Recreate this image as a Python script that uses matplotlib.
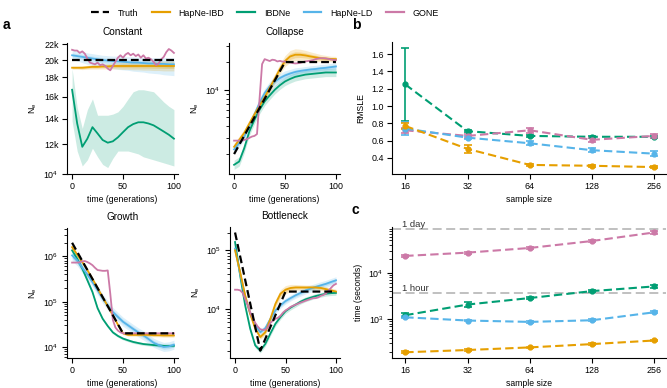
import numpy as np
import matplotlib
matplotlib.use('Agg')
import matplotlib.pyplot as plt
from matplotlib.lines import Line2D
from matplotlib.ticker import NullFormatter, NullLocator, FixedLocator
import matplotlib.transforms as mtransforms

plt.rcParams['font.family'] = ['Liberation Sans', 'DejaVu Sans']
plt.rcParams['mathtext.fontset'] = 'custom'
plt.rcParams['mathtext.rm'] = 'Liberation Sans'
plt.rcParams['mathtext.it'] = 'Liberation Sans'
plt.rcParams['axes.linewidth'] = 0.8
plt.rcParams['xtick.major.width'] = 0.8
plt.rcParams['ytick.major.width'] = 0.8
plt.rcParams['ytick.minor.width'] = 0.6
plt.rcParams['xtick.major.size'] = 3.5
plt.rcParams['ytick.major.size'] = 3.5
plt.rcParams['ytick.minor.size'] = 2
plt.rcParams['xtick.major.pad'] = 2.5
plt.rcParams['ytick.major.pad'] = 2.5
plt.rcParams['xtick.labelsize'] = 6.4
plt.rcParams['ytick.labelsize'] = 6.4
plt.rcParams['axes.labelsize'] = 6.2

C_IBD = '#E69F00'
C_IBDNE = '#009E73'
C_LD = '#56B4E9'
C_GONE = '#CC79A7'

# ---------------- panel a data ----------------
t = np.arange(0, 101, 5)
t_gone = np.arange(0, 100.1, 2.5)

# Constant
const_truth_t = [0, 100]
const_truth = [20000, 20000]
const_ibd = [19.1, 19.1, 19.1, 19.15, 19.2, 19.2, 19.25, 19.25, 19.3, 19.3, 19.3,
             19.3, 19.3, 19.3, 19.3, 19.3, 19.3, 19.3, 19.3, 19.3, 19.3]
const_ibd_w = [0.004, 0.004, 0.005, 0.005, 0.006, 0.006, 0.007, 0.007, 0.008, 0.008, 0.009,
               0.009, 0.010, 0.010, 0.011, 0.011, 0.012, 0.012, 0.013, 0.013, 0.013]
const_ibdne = [16.7, 13.6, 11.8, 12.4, 13.3, 12.8, 12.3, 12.1, 12.2, 12.5, 12.9,
               13.3, 13.55, 13.7, 13.7, 13.6, 13.45, 13.2, 12.95, 12.7, 12.4]
const_ibdne_lo = [13.8, 11.5, 10.5, 10.9, 11.7, 11.1, 10.6, 10.4, 11.0, 11.5, 11.5,
                  11.5, 11.4, 11.3, 11.1, 11.0, 10.9, 10.8, 10.7, 10.6, 10.5]
const_ibdne_hi = [19.0, 15.0, 13.2, 14.8, 15.8, 14.3, 14.3, 14.3, 14.4, 14.6, 15.1,
                  15.8, 16.5, 16.7, 16.7, 16.6, 16.5, 16.0, 15.5, 15.1, 14.8]
const_ld = [20.6, 20.5, 20.4, 20.3, 20.2, 20.1, 20.0, 19.95, 19.9, 19.85, 19.8,
            19.75, 19.7, 19.7, 19.65, 19.6, 19.6, 19.55, 19.55, 19.5, 19.5]
const_ld_lo = [20.1, 19.9, 19.7, 19.5, 19.4, 19.3, 19.2, 19.1, 19.0, 18.9, 18.85,
               18.8, 18.7, 18.65, 18.6, 18.5, 18.45, 18.4, 18.3, 18.25, 18.2]
const_ld_hi = [21.2, 21.1, 21.0, 20.9, 20.8, 20.7, 20.6, 20.55, 20.5, 20.5, 20.45,
               20.4, 20.4, 20.35, 20.3, 20.3, 20.3, 20.3, 20.3, 20.3, 20.3]
const_gone = [21.3, 21.2, 21.2, 20.9, 21.1, 20.8, 20.2, 19.7, 19.6, 19.5, 19.7, 19.4, 19.5, 19.3,
              19.0, 18.8, 19.3, 19.8, 20.3, 20.6, 20.3, 20.7, 20.9, 20.6, 20.8, 20.5, 20.7, 20.3,
              20.6, 20.2, 20.3, 20.1, 19.8, 19.4, 19.6, 20.1, 20.4, 21.0, 21.4, 21.2, 20.9]

# Collapse
coll_truth_t = [0, 50, 100]
coll_truth = [2000, 20000, 20000]
coll_ibd = [2400, 2850, 3400, 4300, 5400, 6700, 8300, 10500, 13200, 16800, 20500,
            23000, 24000, 24000, 23600, 23000, 22500, 22000, 21800, 21600, 21500]
coll_ibd_w = [0.04, 0.04, 0.04, 0.04, 0.045, 0.045, 0.05, 0.05, 0.05, 0.055, 0.06,
              0.065, 0.065, 0.06, 0.055, 0.05, 0.045, 0.04, 0.035, 0.03, 0.03]
coll_ibdne = [1530, 1660, 2320, 3530, 4720, 6070, 7470, 8690, 10000, 11200, 12300,
              13100, 13800, 14200, 14600, 14800, 15000, 15200, 15400, 15400, 15400]
coll_ibdne_w = [0.05, 0.05, 0.05, 0.045, 0.045, 0.045, 0.045, 0.045, 0.045, 0.045, 0.045,
                0.045, 0.045, 0.045, 0.045, 0.045, 0.045, 0.045, 0.045, 0.045, 0.045]
coll_ld = [2250, 2630, 3110, 4100, 5400, 7200, 9200, 10900, 12300, 13400, 14300,
           15000, 15600, 16000, 16300, 16600, 16800, 17100, 17300, 17600, 17900]
coll_ld_w = [0.04, 0.04, 0.04, 0.04, 0.045, 0.05, 0.05, 0.05, 0.05, 0.05, 0.05,
             0.045, 0.045, 0.04, 0.04, 0.04, 0.04, 0.04, 0.04, 0.04, 0.04]
coll_gone = [2800, 2800, 2800, 2800, 2850, 2900, 3000, 3100, 3150, 3300, 8000, 19000, 21500, 21000,
             20500, 21200, 21000, 20300, 20600, 20200, 20300, 19900, 19800, 19500, 19300, 19400,
             19600, 20000, 20300, 20500, 20700, 21000, 21500, 21800, 22000, 22000, 21900, 21600,
             21300, 21100, 21000]

# Growth
grow_truth_t = [0, 50, 100]
grow_truth = [2e6, 2e4, 2e4]
grow_ibd = [1.6e6, 1.1e6, 7.5e5, 5.0e5, 3.2e5, 2.0e5, 1.25e5, 8.0e4, 5.0e4, 3.1e4, 2.0e4,
            1.85e4, 1.85e4, 1.85e4, 1.85e4, 1.85e4, 1.82e4, 1.82e4, 1.8e4, 1.8e4, 1.8e4]
grow_ibd_w = [0.04, 0.035, 0.03, 0.03, 0.03, 0.03, 0.03, 0.03, 0.03, 0.03, 0.03,
              0.03, 0.03, 0.03, 0.03, 0.035, 0.035, 0.035, 0.04, 0.04, 0.04]
grow_ibdne = [1.36e6, 8.9e5, 5.4e5, 2.97e5, 1.63e5, 7.2e4, 4.2e4, 2.9e4, 2.1e4, 1.75e4, 1.53e4,
              1.4e4, 1.29e4, 1.22e4, 1.16e4, 1.13e4, 1.1e4, 1.08e4, 1.06e4, 1.06e4, 1.06e4]
grow_ibdne_w = [0.14, 0.1, 0.07, 0.05, 0.04, 0.04, 0.035, 0.03, 0.03, 0.03, 0.03,
                0.03, 0.03, 0.03, 0.03, 0.03, 0.03, 0.03, 0.03, 0.03, 0.03]
grow_ld = [1.05e6, 8.2e5, 5.6e5, 4.0e5, 2.7e5, 1.8e5, 1.17e5, 8.3e4, 5.9e4, 4.6e4, 3.6e4,
           3.0e4, 2.5e4, 2.1e4, 1.8e4, 1.5e4, 1.24e4, 1.1e4, 1.0e4, 1.03e4, 1.12e4]
grow_ld_w = [0.12, 0.12, 0.11, 0.1, 0.1, 0.1, 0.1, 0.1, 0.1, 0.1, 0.1,
             0.1, 0.1, 0.1, 0.1, 0.1, 0.1, 0.1, 0.1, 0.1, 0.1]
grow_gone = [7.3e5, 7.3e5, 7.3e5, 7.4e5, 7.8e5, 7.9e5, 7.5e5, 7.0e5, 6.4e5, 5.6e5, 5.0e5, 4.9e5,
             4.8e5, 4.8e5, 4.9e5, 1.5e5, 4.0e4, 2.7e4, 2.3e4, 2.1e4, 2.0e4, 2.0e4, 2.0e4, 2.0e4,
             2.0e4, 2.0e4, 2.0e4, 2.0e4, 2.0e4, 2.0e4, 2.0e4, 2.0e4, 2.0e4, 2.0e4, 2.0e4, 2.0e4,
             2.0e4, 2.0e4, 2.0e4, 2.0e4, 2.0e4]

# Bottleneck
bott_truth_t = [0, 25, 50, 100]
bott_truth = [2e5, 2e3, 2e4, 2e4]
bott_ibd = [1.0e5, 4.3e4, 1.73e4, 8.4e3, 4.7e3, 3.4e3, 4.1e3, 6.9e3, 1.24e4, 1.84e4, 2.15e4,
            2.3e4, 2.35e4, 2.35e4, 2.35e4, 2.35e4, 2.35e4, 2.3e4, 2.2e4, 2.1e4, 2.0e4]
bott_ibd_w = [0.04, 0.04, 0.04, 0.04, 0.04, 0.04, 0.05, 0.06, 0.07, 0.07, 0.07,
              0.06, 0.05, 0.045, 0.04, 0.04, 0.04, 0.04, 0.04, 0.04, 0.04]
bott_ibdne = [1.38e5, 3.8e4, 1.17e4, 4.7e3, 2.45e3, 2.0e3, 2.6e3, 3.9e3, 5.7e3, 7.4e3, 9.3e3,
              1.07e4, 1.2e4, 1.35e4, 1.48e4, 1.58e4, 1.68e4, 1.76e4, 1.84e4, 1.88e4, 1.9e4]
bott_ibdne_w = [0.04, 0.04, 0.04, 0.04, 0.04, 0.04, 0.04, 0.04, 0.04, 0.04, 0.04,
                0.04, 0.04, 0.04, 0.04, 0.04, 0.04, 0.04, 0.04, 0.04, 0.04]
bott_ld = [1.07e5, 4.0e4, 1.6e4, 8.4e3, 5.35e3, 4.1e3, 4.8e3, 6.9e3, 9.6e3, 1.17e4, 1.38e4,
           1.55e4, 1.73e4, 1.9e4, 2.1e4, 2.25e4, 2.4e4, 2.55e4, 2.7e4, 2.9e4, 3.1e4]
bott_ld_w = [0.05, 0.05, 0.05, 0.05, 0.05, 0.05, 0.05, 0.05, 0.05, 0.05, 0.05,
             0.05, 0.05, 0.055, 0.06, 0.06, 0.06, 0.06, 0.06, 0.06, 0.06]
bott_gone = [2.15e4, 2.15e4, 2.1e4, 1.9e4, 1.5e4, 1.2e4, 9.0e3, 7.2e3, 5.9e3, 5.1e3, 4.6e3, 4.5e3,
             4.5e3, 5.0e3, 5.9e3, 6.4e3, 6.9e3, 7.2e3, 7.8e3, 8.8e3, 9.6e3, 1.02e4, 1.1e4, 1.15e4,
             1.2e4, 1.25e4, 1.3e4, 1.35e4, 1.4e4, 1.45e4, 1.5e4, 1.55e4, 1.55e4, 1.6e4, 1.7e4,
             1.75e4, 1.85e4, 2.05e4, 2.3e4, 2.55e4, 2.7e4]

# ---------------- panel b / c data ----------------
sample_size = [16, 32, 64, 128, 256]
rmsle_ibd = [0.77, 0.505, 0.32, 0.31, 0.295]
rmsle_ibd_err = [0.03, 0.05, 0.015, 0.01, 0.01]
rmsle_ibdne = [1.25, 0.71, 0.655, 0.645, 0.645]
rmsle_ibdne_err = [0.42, 0.015, 0.015, 0.012, 0.012]
rmsle_ld = [0.74, 0.635, 0.57, 0.49, 0.45]
rmsle_ld_err = [0.07, 0.02, 0.025, 0.02, 0.03]
rmsle_gone = [0.72, 0.655, 0.72, 0.61, 0.655]
rmsle_gone_err = [0.03, 0.02, 0.03, 0.02, 0.02]

time_ibd = [194, 217, 247, 291, 348]
time_ibd_err = [8, 8, 10, 12, 15]
time_ibdne = [1220, 2070, 2860, 4030, 5090]
time_ibdne_err = [120, 250, 200, 250, 300]
time_ld = [1100, 937, 875, 950, 1410]
time_ld_err = [50, 40, 40, 40, 80]
time_gone = [23100, 27200, 34300, 48400, 74000]
time_gone_err = [1500, 1500, 2000, 2500, 4000]

fig = plt.figure(figsize=(6.67, 3.88), dpi=100)


def px_axes(l, tp, r, b):
    return fig.add_axes([l / 667, 1 - b / 388, (r - l) / 667, (b - tp) / 388])


def band(ax, x, y, w, color, layered=False):
    y = np.asarray(y, float)
    w = np.asarray(w, float)
    ax.fill_between(x, y * 10 ** -w, y * 10 ** w, color=color, alpha=0.2, lw=0)
    if layered:
        ax.fill_between(x, y * 10 ** (-w / 2), y * 10 ** (w / 2), color=color, alpha=0.25, lw=0)


def style_a(ax, title):
    ax.set_yscale('log')
    ax.set_xlim(-5, 104)
    ax.set_xticks([0, 50, 100])
    ax.set_title(title, fontsize=7.2, pad=6)
    ax.set_xlabel('time (generations)', labelpad=3)
    ax.set_ylabel('N$_\\mathrm{e}$', labelpad=3)
    ax.spines['top'].set_visible(False)
    ax.spines['right'].set_visible(False)
    ax.yaxis.set_minor_formatter(NullFormatter())


def draw_lines(ax, truth_t, truth, ibd, ibdne, ld, gone, k=1.0):
    ax.plot(t, np.asarray(ibdne) * k, color=C_IBDNE, lw=1.3)
    ax.plot(t, np.asarray(ld) * k, color=C_LD, lw=1.3)
    ax.plot(t, np.asarray(ibd) * k, color=C_IBD, lw=1.3)
    ax.plot(t_gone, np.asarray(gone) * k, color=C_GONE, lw=1.3)
    ax.plot(truth_t, truth, color='black', lw=1.6, ls=(0, (3.5, 1.8)))


# Constant
ax = px_axes(67, 43, 178, 174)
k = 1000
ax.fill_between(t, np.array(const_ibdne_lo) * k, np.array(const_ibdne_hi) * k, color=C_IBDNE, alpha=0.2, lw=0)
ax.fill_between(t, np.array(const_ld_lo) * k, np.array(const_ld_hi) * k, color=C_LD, alpha=0.2, lw=0)
band(ax, t, np.array(const_ld) * k, np.log10(np.array(const_ld_hi) / np.array(const_ld)) * 0.5, C_LD)
band(ax, t, np.array(const_ibd) * k, const_ibd_w, C_IBD, layered=True)
draw_lines(ax, const_truth_t, const_truth, const_ibd, const_ibdne, const_ld, const_gone, k)
style_a(ax, 'Constant')
ax.set_ylim(1e4, 2.22e4)
ax.yaxis.set_major_locator(FixedLocator([1e4, 1.2e4, 1.4e4, 1.6e4, 1.8e4, 2e4, 2.2e4]))
ax.set_yticklabels(['$10^4$', '12k', '14k', '16k', '18k', '20k', '22k'])
ax.yaxis.set_minor_locator(NullLocator())

# Collapse
ax = px_axes(229, 43, 340, 174)
band(ax, t, coll_ibdne, coll_ibdne_w, C_IBDNE)
band(ax, t, coll_ld, coll_ld_w, C_LD, layered=True)
band(ax, t, coll_ibd, coll_ibd_w, C_IBD, layered=True)
draw_lines(ax, coll_truth_t, coll_truth, coll_ibd, coll_ibdne, coll_ld, coll_gone)
style_a(ax, 'Collapse')
ax.set_ylim(1215, 3.22e4)

# Growth
ax = px_axes(67, 228, 178, 358)
band(ax, t, grow_ibdne, grow_ibdne_w, C_IBDNE)
band(ax, t, grow_ld, grow_ld_w, C_LD, layered=True)
band(ax, t, grow_ibd, grow_ibd_w, C_IBD, layered=True)
draw_lines(ax, grow_truth_t, grow_truth, grow_ibd, grow_ibdne, grow_ld, grow_gone)
style_a(ax, 'Growth')
ax.set_ylim(5.7e3, 4.24e6)

# Bottleneck
ax = px_axes(230, 227, 340, 358)
band(ax, t, bott_ibdne, bott_ibdne_w, C_IBDNE)
band(ax, t, bott_ld, bott_ld_w, C_LD, layered=True)
band(ax, t, bott_ibd, bott_ibd_w, C_IBD, layered=True)
draw_lines(ax, bott_truth_t, bott_truth, bott_ibd, bott_ibdne, bott_ld, bott_gone)
style_a(ax, 'Bottleneck')
ax.set_ylim(1.5e3, 2.48e5)


def style_bc(ax):
    ax.set_xscale('log', base=2)
    ax.set_xlim(13.8, 292)
    ax.xaxis.set_major_locator(FixedLocator(sample_size))
    ax.set_xticklabels([str(s) for s in sample_size])
    ax.xaxis.set_minor_locator(NullLocator())
    ax.set_xlabel('sample size', labelpad=3)
    ax.spines['top'].set_visible(False)
    ax.spines['right'].set_visible(False)


def eb(ax, y, err, color):
    ax.errorbar(sample_size, y, yerr=err, color=color, ls=(0, (4, 2)), lw=1.5,
                marker='o', ms=3.5, capsize=3, elinewidth=1.2, capthick=1.2)


# panel b
ax = px_axes(392, 42, 666, 174)
eb(ax, rmsle_ibdne, rmsle_ibdne_err, C_IBDNE)
eb(ax, rmsle_gone, rmsle_gone_err, C_GONE)
eb(ax, rmsle_ld, rmsle_ld_err, C_LD)
eb(ax, rmsle_ibd, rmsle_ibd_err, C_IBD)
style_bc(ax)
ax.set_ylim(0.215, 1.74)
ax.set_yticks([0.4, 0.6, 0.8, 1.0, 1.2, 1.4, 1.6])
ax.set_yticklabels(['0.4', '0.6', '0.8', '1.0', '1.2', '1.4', '1.6'])
ax.set_ylabel('RMSLE', labelpad=4)

# panel c
ax = px_axes(392, 227, 666, 358)
ax.set_yscale('log')
for val, lab in [(86400, '1 day'), (3600, '1 hour')]:
    ax.axhline(val, color='#bbbbbb', lw=1.3, ls=(0, (5, 2.5)), zorder=0)
    trans = mtransforms.blended_transform_factory(ax.transAxes, ax.transData)
    ax.text(0.035, val * 1.04, lab, transform=trans, fontsize=6.8, va='bottom', ha='left', color='#333333')
eb(ax, time_gone, time_gone_err, C_GONE)
eb(ax, time_ibdne, time_ibdne_err, C_IBDNE)
eb(ax, time_ld, time_ld_err, C_LD)
eb(ax, time_ibd, time_ibd_err, C_IBD)
style_bc(ax)
ax.set_ylim(146, 9.7e4)
ax.yaxis.set_minor_formatter(NullFormatter())
ax.set_ylabel('time (seconds)', labelpad=4)

# legend
handles = [Line2D([], [], color='black', lw=1.6, ls=(0, (3.5, 1.8))),
           Line2D([], [], color=C_IBD, lw=1.6),
           Line2D([], [], color=C_IBDNE, lw=1.6),
           Line2D([], [], color=C_LD, lw=1.6),
           Line2D([], [], color=C_GONE, lw=1.6)]
labels = ['Truth', 'HapNe-IBD', 'IBDNe', 'HapNe-LD', 'GONE']
fig.legend(handles, labels, loc='center', bbox_to_anchor=(265 / 667, 1 - 13 / 388), ncol=5,
           frameon=False, fontsize=6.4, handlelength=2.0, columnspacing=1.5, handletextpad=1.0)

for lab, x, y in [('a', 3, 25), ('b', 352, 25), ('c', 352, 210)]:
    fig.text(x / 667, 1 - y / 388, lab, fontsize=10, fontweight='bold', va='center', ha='left')

fig.savefig('out.png', dpi=100)
